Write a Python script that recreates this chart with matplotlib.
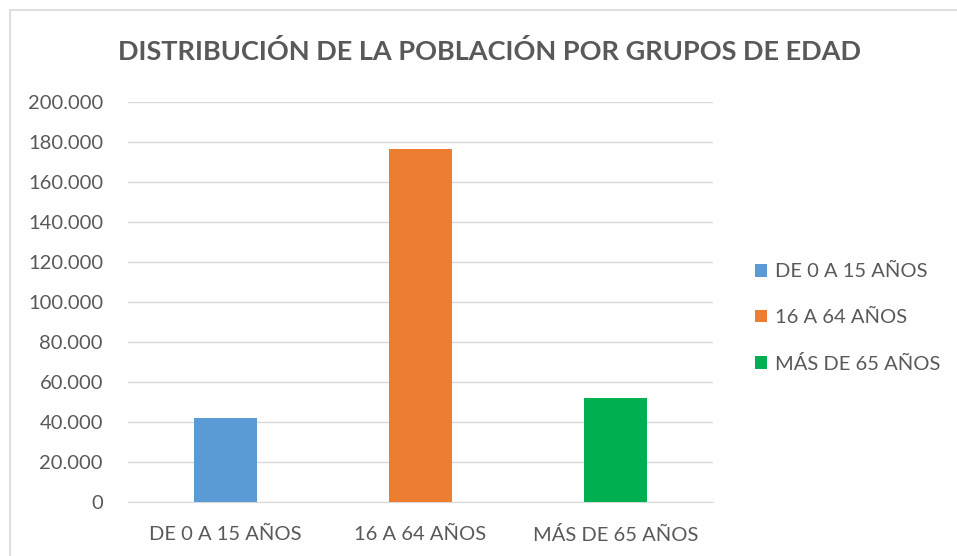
import matplotlib.pyplot as plt
from matplotlib.patches import Rectangle
from matplotlib.ticker import FuncFormatter

categories = ['DE 0 A 15 AÑOS', '16 A 64 AÑOS', 'MÁS DE 65 AÑOS']
values = [42000, 176500, 52000]
colors = ['#5B9BD5', '#ED7D31', '#00B050']

W, H = 957, 556
plt.rcParams['font.family'] = ['Lato', 'DejaVu Sans']
text_color = '#595959'
grid_color = '#D9D9D9'

fig = plt.figure(figsize=(W / 100, H / 100), dpi=100)
ax = fig.add_axes([128 / W, 1 - 502 / H, (713 - 128) / W, 400 / H])

x = range(len(categories))
bars = ax.bar(x, values, width=0.32, color=colors, zorder=3)

ax.set_xlim(-0.5, 2.5)
ax.set_ylim(0, 200000)
ax.set_yticks(range(0, 200001, 20000))
ax.yaxis.set_major_formatter(FuncFormatter(lambda v, p: f'{int(v):,}'.replace(',', '.')))
ax.set_xticks(list(x))
ax.set_xticklabels(categories)
ax.grid(axis='y', color=grid_color, linewidth=1, zorder=0)
for s in ['top', 'right', 'left']:
    ax.spines[s].set_visible(False)
ax.spines['bottom'].set_color(grid_color)
ax.tick_params(axis='both', length=0, labelsize=14.5, colors=text_color)
ax.tick_params(axis='y', pad=18)
ax.tick_params(axis='x', pad=17)

fig.text((117 + 862) / 2 / W, 1 - 51 / H, 'DISTRIBUCIÓN DE LA POBLACIÓN POR GRUPOS DE EDAD',
         ha='center', va='center', fontsize=19.5, fontweight='bold', color=text_color)

leg = fig.legend(bars, categories, loc='center left', bbox_to_anchor=(737 / W, 1 - 318 / H),
                 frameon=False, fontsize=14.5, labelcolor=text_color, handlelength=0.6,
                 handleheight=0.6, handletextpad=0.4, labelspacing=1.42)

fig.patches.append(Rectangle((10 / W, -0.1), 1.1, 1.1 - 10 / H, transform=fig.transFigure,
                             fill=False, edgecolor=grid_color, linewidth=1.2))

fig.savefig('out.png', dpi=100, facecolor='white')
